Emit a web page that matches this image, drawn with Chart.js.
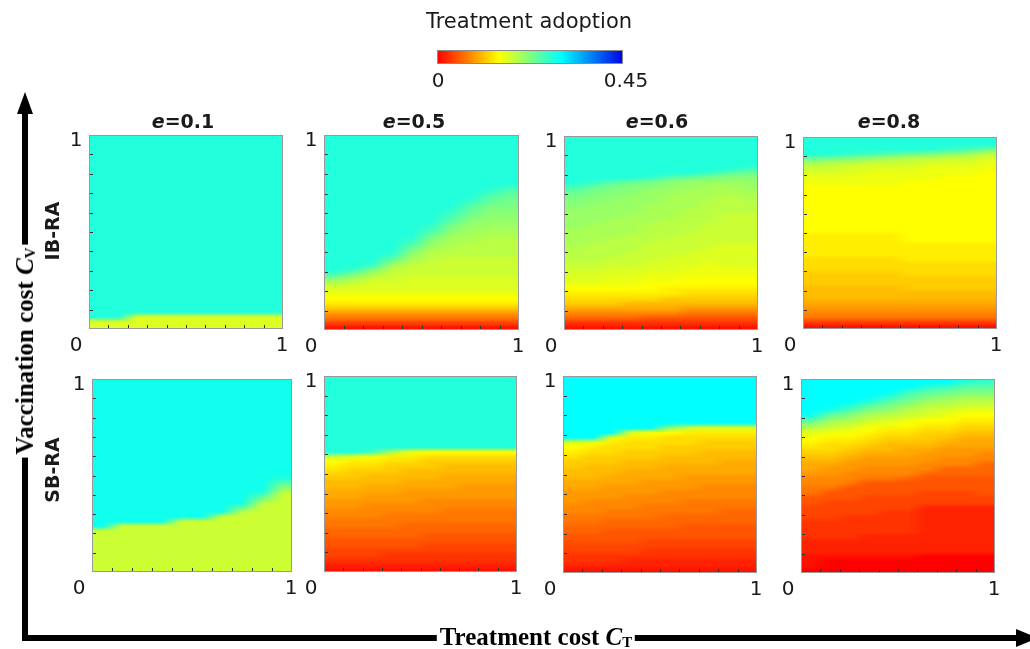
<!DOCTYPE html>
<html>
<head>
<meta charset="utf-8">
<script src="https://cdn.jsdelivr.net/npm/chart.js@4/dist/chart.umd.min.js"></script>
<style>
  html, body { margin: 0; padding: 0; background: #fff; }
  body { position: relative; width: 1030px; height: 649px; overflow: hidden;
         font-family: "DejaVu Sans", sans-serif; color: #1a1a1a; }
  .abs { position: absolute; }
  .lbl { position: absolute; white-space: nowrap; line-height: 1; transform: translate(-50%, -50%); }
  .tick { font-size: 20px; }
  .title { font-size: 19px; font-weight: bold; }
  .regime { font-size: 19px; font-weight: bold; transform: translate(-50%, -50%) rotate(-90deg); }
  .axisname { font-family: "Liberation Serif", serif; font-weight: bold; font-size: 25px;
              background: #fff; padding: 0 3px; color: #000; }
  .axisname sub { font-size: 15px; font-style: normal; vertical-align: -2px; }
  .vertical { transform: translate(-50%, -50%) rotate(-90deg); }
</style>
</head>
<body>
<canvas id="frame" class="abs" width="1030" height="649" style="left:0;top:0"></canvas>
<script>
// Treatment adoption, stored in hundredths, on a 10 x 40 grid of cost cells.
// Each inner array is one treatment-cost column (C_T from 0 to 1, left to right),
// listed from vaccination cost C_V = 0 (bottom) up to C_V = 1 (top).
const costGridX = 10;
const costGridY = 40;
const efficacyLabels = ['0.1', '0.5', '0.6', '0.8'];
const regimeLabels = ['IB-RA', 'SB-RA'];
const adoptionRange = [0, 0.45];
const adoptionTickLabels = ['0', '0.45'];
const costTickLabels = ['0', '1'];

const ibRaE01 = [
  [17,17,28,28,28,28,28,28,28,28, 28,28,28,28,28,28,28,28,28,28, 28,28,28,28,28,28,28,28,28,28, 28,28,28,28,28,28,28,28,28,28],
  [17,17,28,28,28,28,28,28,28,28, 28,28,28,28,28,28,28,28,28,28, 28,28,28,28,28,28,28,28,28,28, 28,28,28,28,28,28,28,28,28,28],
  [17,17,17,28,28,28,28,28,28,28, 28,28,28,28,28,28,28,28,28,28, 28,28,28,28,28,28,28,28,28,28, 28,28,28,28,28,28,28,28,28,28],
  [17,17,17,28,28,28,28,28,28,28, 28,28,28,28,28,28,28,28,28,28, 28,28,28,28,28,28,28,28,28,28, 28,28,28,28,28,28,28,28,28,28],
  [17,17,17,28,28,28,28,28,28,28, 28,28,28,28,28,28,28,28,28,28, 28,28,28,28,28,28,28,28,28,28, 28,28,28,28,28,28,28,28,28,28],
  [17,17,17,28,28,28,28,28,28,28, 28,28,28,28,28,28,28,28,28,28, 28,28,28,28,28,28,28,28,28,28, 28,28,28,28,28,28,28,28,28,28],
  [17,17,17,28,28,28,28,28,28,28, 28,28,28,28,28,28,28,28,28,28, 28,28,28,28,28,28,28,28,28,28, 28,28,28,28,28,28,28,28,28,28],
  [17,17,17,28,28,28,28,28,28,28, 28,28,28,28,28,28,28,28,28,28, 28,28,28,28,28,28,28,28,28,28, 28,28,28,28,28,28,28,28,28,28],
  [17,17,17,28,28,28,28,28,28,28, 28,28,28,28,28,28,28,28,28,28, 28,28,28,28,28,28,28,28,28,28, 28,28,28,28,28,28,28,28,28,28],
  [17,17,17,28,28,28,28,28,28,28, 28,28,28,28,28,28,28,28,28,28, 28,28,28,28,28,28,28,28,28,28, 28,28,28,28,28,28,28,28,28,28]
];

const ibRaE05 = [
  [1,4,7,9,12,14,15,16,17,19, 22,26,28,28,28,28,28,28,28,28, 28,28,28,28,28,28,28,28,28,28, 28,28,28,28,28,28,28,28,28,28],
  [1,4,7,9,12,14,15,16,17,18, 20,23,27,28,28,28,28,28,28,28, 28,28,28,28,28,28,28,28,28,28, 28,28,28,28,28,28,28,28,28,28],
  [1,4,7,9,12,14,15,16,17,17, 18,20,23,27,28,28,28,28,28,28, 28,28,28,28,28,28,28,28,28,28, 28,28,28,28,28,28,28,28,28,28],
  [1,4,7,9,12,14,15,16,17,17, 18,18,19,21,24,27,28,28,28,28, 28,28,28,28,28,28,28,28,28,28, 28,28,28,28,28,28,28,28,28,28],
  [1,4,7,9,12,14,15,16,17,17, 17,18,18,19,20,21,23,25,27,28, 28,28,28,28,28,28,28,28,28,28, 28,28,28,28,28,28,28,28,28,28],
  [1,4,7,9,12,14,15,16,17,17, 17,18,18,18,19,19,20,21,22,24, 26,27,28,28,28,28,28,28,28,28, 28,28,28,28,28,28,28,28,28,28],
  [1,4,7,9,12,14,15,16,17,17, 17,18,18,18,18,19,19,20,20,21, 22,23,25,26,27,28,28,28,28,28, 28,28,28,28,28,28,28,28,28,28],
  [1,4,7,9,12,14,15,16,17,17, 17,18,18,18,18,19,19,19,20,20, 21,21,22,23,24,25,27,28,28,28, 28,28,28,28,28,28,28,28,28,28],
  [1,4,7,9,12,14,15,16,17,17, 17,18,18,18,18,19,19,19,19,20, 20,21,21,22,22,23,24,25,27,28, 28,28,28,28,28,28,28,28,28,28],
  [1,4,7,9,12,14,15,16,17,17, 17,18,18,18,18,19,19,19,19,20, 20,21,21,22,22,23,23,24,25,27, 28,28,28,28,28,28,28,28,28,28]
];

const ibRaE06 = [
  [1,3,6,8,10,12,13,14,15,16, 17,17,18,18,19,19,19,20,20,20, 20,21,21,21,21,22,22,23,24,26, 28,28,28,28,28,28,28,28,28,28],
  [1,3,6,8,10,12,13,14,15,16, 17,17,18,18,19,19,19,19,20,20, 20,20,21,21,21,21,22,22,23,24, 27,28,28,28,28,28,28,28,28,28],
  [1,3,6,8,10,12,13,14,15,16, 16,17,17,18,18,19,19,19,19,20, 20,20,20,21,21,21,21,22,22,23, 25,28,28,28,28,28,28,28,28,28],
  [1,3,6,8,10,11,13,14,15,16, 16,17,17,18,18,18,19,19,19,19, 20,20,20,20,21,21,21,21,22,22, 24,28,28,28,28,28,28,28,28,28],
  [1,3,5,8,10,11,13,14,15,15, 16,16,17,17,18,18,18,18,19,19, 19,19,20,20,20,20,21,21,21,22, 23,27,28,28,28,28,28,28,28,28],
  [1,3,5,8,10,11,12,14,14,15, 16,16,17,17,17,18,18,18,18,19, 19,19,19,20,20,20,20,20,21,21, 22,25,28,28,28,28,28,28,28,28],
  [1,3,5,7,9,11,12,13,14,15, 15,16,16,17,17,17,18,18,18,18, 19,19,19,19,19,20,20,20,20,21, 21,24,28,28,28,28,28,28,28,28],
  [1,3,5,7,9,11,12,13,14,15, 15,16,16,16,17,17,17,18,18,18, 18,18,19,19,19,19,19,20,20,20, 21,23,27,28,28,28,28,28,28,28],
  [1,3,5,7,9,11,12,13,14,15, 15,16,16,17,17,17,17,17,18,18, 18,18,18,18,19,19,19,19,20,20, 21,22,25,28,28,28,28,28,28,28],
  [1,3,5,7,9,11,12,13,14,15, 15,16,16,17,17,17,17,17,18,18, 18,18,18,18,19,19,19,20,20,21, 21,22,24,27,28,28,28,28,28,28]
];

const ibRaE08 = [
  [1,4,7,8,9,10,11,11,11,12, 12,12,13,13,13,14,14,14,14,14, 15,15,15,15,15,15,15,15,15,15, 16,16,17,18,20,24,28,28,28,28],
  [1,4,7,8,9,10,11,11,11,12, 12,12,13,13,13,14,14,14,14,14, 15,15,15,15,15,15,15,15,15,15, 16,16,17,18,19,23,28,28,28,28],
  [1,4,7,8,9,10,11,11,11,12, 12,12,13,13,13,14,14,14,14,14, 15,15,15,15,15,15,15,15,15,15, 16,16,17,17,19,22,27,28,28,28],
  [1,4,7,8,9,10,11,11,11,12, 12,12,13,13,13,14,14,14,14,14, 15,15,15,15,15,15,15,15,15,15, 16,16,16,17,18,21,26,28,28,28],
  [1,4,7,8,9,10,11,11,11,12, 12,12,13,13,13,14,14,14,14,14, 15,15,15,15,15,15,15,15,15,15, 16,16,16,17,18,20,25,28,28,28],
  [1,4,7,8,9,10,11,11,12,12, 12,13,13,13,14,14,14,14,15,15, 15,15,15,15,15,15,15,15,15,15, 15,16,16,17,18,19,24,28,28,28],
  [1,4,7,8,9,10,11,11,12,12, 12,13,13,13,14,14,14,14,15,15, 15,15,15,15,15,15,15,15,15,15, 15,16,16,16,17,19,23,28,28,28],
  [1,4,7,8,9,10,11,11,12,12, 12,13,13,13,14,14,14,14,15,15, 15,15,15,15,15,15,15,15,15,15, 15,15,16,16,17,18,22,27,28,28],
  [1,4,7,8,9,10,11,11,12,12, 12,13,13,13,14,14,14,14,15,15, 15,15,15,15,15,15,15,15,15,15, 15,15,16,16,17,18,21,26,28,28],
  [1,4,7,8,9,10,11,11,12,12, 12,13,13,13,14,14,14,14,15,15, 15,15,15,15,15,15,15,15,15,15, 15,15,15,16,16,17,19,24,28,28]
];

const sbRaE01 = [
  [18,18,18,18,18,18,18,18,18,29, 29,29,29,29,29,29,29,29,29,29, 29,29,29,29,29,29,29,29,29,29, 29,29,29,29,29,29,29,29,29,29],
  [18,18,18,18,18,18,18,18,18,18, 29,29,29,29,29,29,29,29,29,29, 29,29,29,29,29,29,29,29,29,29, 29,29,29,29,29,29,29,29,29,29],
  [18,18,18,18,18,18,18,18,18,18, 29,29,29,29,29,29,29,29,29,29, 29,29,29,29,29,29,29,29,29,29, 29,29,29,29,29,29,29,29,29,29],
  [18,18,18,18,18,18,18,18,18,18, 29,29,29,29,29,29,29,29,29,29, 29,29,29,29,29,29,29,29,29,29, 29,29,29,29,29,29,29,29,29,29],
  [18,18,18,18,18,18,18,18,18,18, 18,29,29,29,29,29,29,29,29,29, 29,29,29,29,29,29,29,29,29,29, 29,29,29,29,29,29,29,29,29,29],
  [18,18,18,18,18,18,18,18,18,18, 18,29,29,29,29,29,29,29,29,29, 29,29,29,29,29,29,29,29,29,29, 29,29,29,29,29,29,29,29,29,29],
  [18,18,18,18,18,18,18,18,18,18, 18,18,29,29,29,29,29,29,29,29, 29,29,29,29,29,29,29,29,29,29, 29,29,29,29,29,29,29,29,29,29],
  [18,18,18,18,18,18,18,18,18,18, 18,18,19,25,29,29,29,29,29,29, 29,29,29,29,29,29,29,29,29,29, 29,29,29,29,29,29,29,29,29,29],
  [18,18,18,18,18,18,18,18,18,18, 18,18,18,18,20,24,28,29,29,29, 29,29,29,29,29,29,29,29,29,29, 29,29,29,29,29,29,29,29,29,29],
  [18,18,18,18,18,18,18,18,18,18, 18,18,18,18,18,18,19,22,25,28, 29,29,29,29,29,29,29,29,29,29, 29,29,29,29,29,29,29,29,29,29]
];

const sbRaE05 = [
  [1,2,3,4,4,5,5,6,6,7, 7,8,8,9,9,10,10,11,11,12, 13,14,15,18,28,28,28,28,28,28, 28,28,28,28,28,28,28,28,28,28],
  [1,2,3,4,4,5,5,6,6,7, 7,8,8,9,9,10,10,11,11,12, 12,13,14,16,28,28,28,28,28,28, 28,28,28,28,28,28,28,28,28,28],
  [1,2,3,4,4,5,5,6,6,7, 7,8,8,8,9,9,10,10,11,11, 12,13,14,15,26,28,28,28,28,28, 28,28,28,28,28,28,28,28,28,28],
  [1,2,3,3,4,5,5,6,6,7, 7,7,8,8,9,9,10,10,11,11, 12,12,13,14,20,28,28,28,28,28, 28,28,28,28,28,28,28,28,28,28],
  [1,2,3,3,4,5,5,6,6,6, 7,7,8,8,9,9,9,10,10,11, 11,12,13,14,16,28,28,28,28,28, 28,28,28,28,28,28,28,28,28,28],
  [1,2,3,3,4,4,5,5,6,6, 7,7,8,8,8,9,9,10,10,11, 11,12,12,13,15,28,28,28,28,28, 28,28,28,28,28,28,28,28,28,28],
  [1,2,3,3,4,4,5,5,6,6, 7,7,7,8,8,9,9,10,10,10, 11,11,12,13,15,28,28,28,28,28, 28,28,28,28,28,28,28,28,28,28],
  [1,2,3,3,4,4,5,5,6,6, 7,7,7,8,8,9,9,9,10,10, 11,11,12,13,15,28,28,28,28,28, 28,28,28,28,28,28,28,28,28,28],
  [1,2,3,3,4,4,5,5,6,6, 7,7,7,8,8,9,9,9,10,10, 11,11,12,13,15,28,28,28,28,28, 28,28,28,28,28,28,28,28,28,28],
  [1,2,3,3,4,4,5,5,6,6, 7,7,7,8,8,9,9,9,10,10, 11,11,12,13,15,28,28,28,28,28, 28,28,28,28,28,28,28,28,28,28]
];

const sbRaE06 = [
  [1,2,3,3,4,4,5,5,6,6, 7,7,8,8,9,9,9,10,10,11, 11,12,12,13,14,15,17,30,30,30, 30,30,30,30,30,30,30,30,30,30],
  [1,2,3,3,4,4,5,5,6,6, 7,7,8,8,8,9,9,10,10,11, 11,11,12,12,13,14,16,30,30,30, 30,30,30,30,30,30,30,30,30,30],
  [1,2,3,3,4,4,5,5,5,6, 6,7,7,8,8,9,9,9,10,10, 11,11,12,12,13,13,14,16,30,30, 30,30,30,30,30,30,30,30,30,30],
  [1,2,2,3,4,4,5,5,5,6, 6,7,7,8,8,8,9,9,10,10, 10,11,11,12,12,13,13,14,17,30, 30,30,30,30,30,30,30,30,30,30],
  [1,2,2,3,3,4,4,5,5,6, 6,7,7,7,8,8,9,9,9,10, 10,11,11,12,12,13,13,14,15,30, 30,30,30,30,30,30,30,30,30,30],
  [1,2,2,3,3,4,4,5,5,6, 6,6,7,7,8,8,8,9,9,10, 10,10,11,11,12,12,13,13,15,22, 30,30,30,30,30,30,30,30,30,30],
  [1,2,2,3,3,4,4,5,5,5, 6,6,7,7,7,8,8,9,9,9, 10,10,11,11,12,12,13,13,14,18, 30,30,30,30,30,30,30,30,30,30],
  [1,2,2,3,3,4,4,5,5,5, 6,6,7,7,7,8,8,8,9,9, 10,10,11,11,11,12,12,13,14,17, 30,30,30,30,30,30,30,30,30,30],
  [1,2,2,3,3,4,4,5,5,5, 6,6,6,7,7,8,8,8,9,9, 10,10,10,11,11,12,12,13,14,17, 30,30,30,30,30,30,30,30,30,30],
  [1,2,2,3,3,4,4,5,5,5, 6,6,6,7,7,8,8,8,9,9, 10,10,10,11,11,12,12,13,14,17, 30,30,30,30,30,30,30,30,30,30]
];

const sbRaE08 = [
  [0,1,1,1,2,2,2,3,3,3, 3,4,4,4,5,5,7,7,8,8, 9,10,10,11,12,13,14,15,16,18, 21,25,29,30,30,30,30,30,30,30],
  [0,0,0,1,2,2,2,3,3,3, 3,4,4,4,4,5,5,7,8,8, 9,9,10,11,12,13,13,14,15,17, 19,21,24,28,30,30,30,30,30,30],
  [0,0,0,1,2,2,2,3,3,3, 3,3,4,4,4,5,5,5,7,8, 8,9,9,10,11,12,13,14,15,16, 18,20,22,25,28,30,30,30,30,30],
  [0,0,0,1,2,2,2,2,3,3, 3,3,4,4,4,4,5,5,5,7, 8,8,9,9,10,11,12,13,14,15, 16,18,20,22,25,28,30,30,30,30],
  [0,0,0,1,2,2,2,2,3,3, 3,3,3,4,4,4,5,5,5,7, 8,8,9,9,10,11,11,12,13,14, 16,17,19,21,23,25,28,30,30,30],
  [0,0,0,1,2,2,2,2,3,3, 3,3,3,4,4,4,5,5,5,6, 8,8,9,9,10,10,11,12,13,14, 15,16,18,19,21,23,25,27,30,30],
  [0,0,0,0,2,2,2,2,2,2, 2,2,2,2,4,4,4,5,5,5, 6,8,8,9,9,10,11,12,12,13, 14,15,17,18,19,21,23,25,28,30],
  [0,0,0,0,2,2,2,2,2,2, 2,2,2,2,4,4,4,5,5,5, 6,6,8,8,9,9,10,11,12,13, 14,15,16,17,19,20,22,24,27,30],
  [0,0,0,0,2,2,2,2,2,2, 2,2,2,2,4,4,4,5,5,5, 6,6,8,8,9,9,10,10,11,12, 13,14,15,16,18,19,21,23,25,28],
  [0,0,0,0,2,2,2,2,2,2, 2,2,2,2,4,4,5,5,5,5, 6,6,6,8,8,9,10,10,11,12, 13,14,15,16,18,19,21,23,25,27]
];

const panelData = [ibRaE01, ibRaE05, ibRaE06, ibRaE08, sbRaE01, sbRaE05, sbRaE06, sbRaE08];

// Page layout: [left, top, width, height] of each heat-map panel, row by row.
const panelBoxes = [
  [89, 135, 194, 194], [324, 135, 195, 195], [564, 136, 194, 194], [803, 137, 194, 192],
  [92, 379, 200, 193], [324, 376, 193, 196], [563, 376, 194, 197], [801, 379, 194, 194]
];
const titleCenters = [183, 414, 657, 889];

// Red -> yellow -> cyan -> blue colour scale over the adoption range.
function adoptionColor(v) {
  const t = Math.min(1, Math.max(0, (v - adoptionRange[0]) / (adoptionRange[1] - adoptionRange[0])));
  let r, g, b;
  if (t <= 1 / 3) { r = 255; g = 765 * t; b = 0; }
  else if (t <= 2 / 3) { r = 765 * (2 / 3 - t); g = 255; b = 765 * (t - 1 / 3); }
  else { r = 0; g = 765 * (1 - t); b = 255 - 75 * (t - 2 / 3); }
  return `rgb(${Math.round(r)},${Math.round(g)},${Math.round(b)})`;
}

function cellsFrom(columns) {
  const pts = [];
  columns.forEach((col, i) => col.forEach((v, j) => {
    pts.push({ x: (i + 0.5) / costGridX, y: (j + 0.5) / costGridY, v: v / 100 });
  }));
  return pts;
}

// Paints the grid cells as a shaded raster spanning the chart's x/y scales
// (cell colours blend smoothly between neighbouring cells), then adds the
// frame and the inward minor ticks.
const heatCells = {
  id: 'heatCells',
  beforeDatasetsDraw(chart) {
    const { ctx, scales: { x, y } } = chart;
    const raster = document.createElement('canvas');
    raster.width = costGridX + 2;
    raster.height = costGridY + 2;
    const rc = raster.getContext('2d');
    for (const p of chart.data.datasets[0].data) {
      const i = Math.round(p.x * costGridX - 0.5);
      const row = costGridY - 1 - Math.round(p.y * costGridY - 0.5);
      const c0 = i === 0 ? 0 : i + 1, c1 = i === costGridX - 1 ? costGridX + 2 : i + 2;
      const r0 = row === 0 ? 0 : row + 1, r1 = row === costGridY - 1 ? costGridY + 2 : row + 2;
      rc.fillStyle = adoptionColor(p.v);
      rc.fillRect(c0, r0, c1 - c0, r1 - r0);
    }
    const left = x.getPixelForValue(0), right = x.getPixelForValue(1);
    const top = y.getPixelForValue(1), bottom = y.getPixelForValue(0);
    ctx.save();
    ctx.imageSmoothingEnabled = true;
    ctx.imageSmoothingQuality = 'low';
    ctx.drawImage(raster, 1, 1, costGridX, costGridY, left, top, right - left, bottom - top);
    ctx.restore();
  },
  afterDatasetsDraw(chart) {
    const { ctx, chartArea: a, scales: { x, y } } = chart;
    ctx.save();
    ctx.strokeStyle = '#333';
    ctx.lineWidth = 1;
    ctx.beginPath();
    for (let k = 1; k < 10; k++) {
      const px = Math.round(x.getPixelForValue(k / 10)) + 0.5;
      ctx.moveTo(px, a.bottom); ctx.lineTo(px, a.bottom - 4);
      const py = Math.round(y.getPixelForValue(k / 10)) + 0.5;
      ctx.moveTo(a.left, py); ctx.lineTo(a.left + 4, py);
    }
    ctx.stroke();
    ctx.strokeStyle = '#9a9a9a';
    ctx.strokeRect(a.left + 0.5, a.top + 0.5, a.right - a.left - 1, a.bottom - a.top - 1);
    ctx.restore();
  }
};

function addLabel(html, cls, cx, cy) {
  const d = document.createElement('div');
  d.className = 'lbl ' + cls;
  d.innerHTML = html;
  d.style.left = cx + 'px';
  d.style.top = cy + 'px';
  document.body.appendChild(d);
  return d;
}

panelData.forEach((cols, idx) => {
  const [left, top, w, h] = panelBoxes[idx];
  const cv = document.createElement('canvas');
  cv.className = 'abs';
  cv.width = w; cv.height = h;
  cv.style.left = left + 'px'; cv.style.top = top + 'px';
  document.body.appendChild(cv);
  new Chart(cv, {
    type: 'scatter',
    data: { datasets: [{ data: cellsFrom(cols), pointRadius: 0, pointHoverRadius: 0 }] },
    options: {
      responsive: false, animation: false, events: [],
      layout: { padding: 0 },
      plugins: { legend: { display: false }, tooltip: { enabled: false } },
      scales: {
        x: { type: 'linear', min: 0, max: 1, display: false },
        y: { type: 'linear', min: 0, max: 1, display: false }
      }
    },
    plugins: [heatCells]
  });
  addLabel(costTickLabels[1], 'tick', left - 13, top + 4);
  addLabel(costTickLabels[0], 'tick', left - 13, top + h + 15);
  addLabel(costTickLabels[1], 'tick', left + w - 1, top + h + 15);
});

efficacyLabels.forEach((e, i) => addLabel('<i>e</i>=' + e, 'title', titleCenters[i], 121));
addLabel(regimeLabels[0], 'regime', 52, 231);
addLabel(regimeLabels[1], 'regime', 52, 470);

// Colour bar for treatment adoption.
(function () {
  const cv = document.createElement('canvas');
  cv.className = 'abs';
  cv.width = 186; cv.height = 14;
  cv.style.left = '437px'; cv.style.top = '50px';
  document.body.appendChild(cv);
  new Chart(cv, {
    type: 'scatter',
    data: { datasets: [{ data: [], pointRadius: 0 }] },
    options: {
      responsive: false, animation: false, events: [],
      layout: { padding: 0 },
      plugins: { legend: { display: false }, tooltip: { enabled: false } },
      scales: {
        x: { type: 'linear', min: adoptionRange[0], max: adoptionRange[1], display: false },
        y: { type: 'linear', min: 0, max: 1, display: false }
      }
    },
    plugins: [{
      id: 'colourBar',
      beforeDatasetsDraw(chart) {
        const { ctx, chartArea: a, scales: { x } } = chart;
        ctx.save();
        for (let px = Math.floor(a.left); px < a.right; px++) {
          ctx.fillStyle = adoptionColor(x.getValueForPixel(px + 0.5));
          ctx.fillRect(px, a.top, 1, a.bottom - a.top);
        }
        ctx.strokeStyle = '#8a8a8a';
        ctx.strokeRect(a.left + 0.5, a.top + 0.5, a.right - a.left - 1, a.bottom - a.top - 1);
        ctx.restore();
      }
    }]
  });
})();
addLabel('Treatment adoption', 'tick', 529, 21).style.fontSize = '21px';
addLabel(adoptionTickLabels[0], 'tick', 438, 80);
addLabel(adoptionTickLabels[1], 'tick', 626, 80);

// Outer axis arrows.
(function () {
  const ctx = document.getElementById('frame').getContext('2d');
  ctx.fillStyle = '#000';
  ctx.fillRect(22, 110, 6, 531);
  ctx.fillRect(22, 635, 996, 6);
  ctx.beginPath();
  ctx.moveTo(25, 92); ctx.lineTo(17, 114); ctx.lineTo(33, 114); ctx.closePath();
  ctx.fill();
  ctx.beginPath();
  ctx.moveTo(1016, 629); ctx.lineTo(1038, 638); ctx.lineTo(1016, 647); ctx.closePath();
  ctx.fill();
})();
addLabel('Vaccination cost <i>C</i><sub>V</sub>', 'axisname vertical', 25, 351);
addLabel('Treatment cost <i>C</i><sub>T</sub>', 'axisname', 536, 637);
</script>
</body>
</html>
